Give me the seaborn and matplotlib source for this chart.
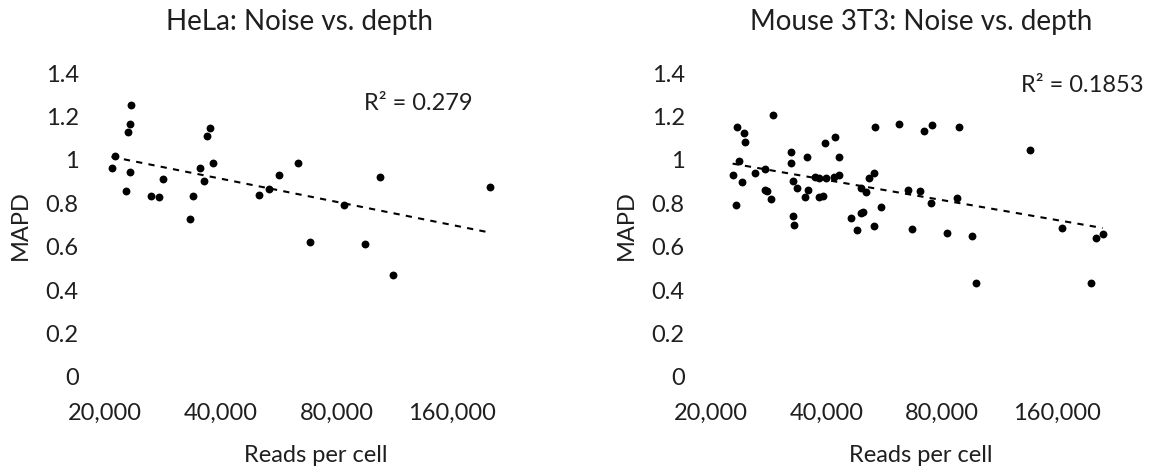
import numpy as np
import pandas as pd
import matplotlib
matplotlib.use("Agg")
import matplotlib.pyplot as plt
import seaborn as sns
from matplotlib.ticker import FixedLocator, FixedFormatter, NullLocator

# ---------------- data ----------------
hela_reads = [23400, 23260, 22940, 21220, 20810, 23260, 22630, 26280, 27610, 28330,
              33290, 33820, 35330, 36270, 36930, 37510, 38180, 50250, 53250, 56530,
              63560, 68300, 103700, 83450, 94870, 112300, 200700]
hela_mapd = [1.254, 1.166, 1.131, 1.020, 0.964, 0.945, 0.858, 0.832, 0.828, 0.914,
             0.728, 0.834, 0.964, 0.904, 1.111, 1.146, 0.986, 0.838, 0.868, 0.929,
             0.986, 0.622, 0.923, 0.792, 0.611, 0.469, 0.874]

mouse_reads = [22770, 23180, 23380, 23640, 24390, 24600, 24170, 26100, 27640, 28000,
               27600, 28620, 29070, 32450, 32390, 32680, 32680, 32970, 33550, 35130,
               35600, 35820, 37270, 38270, 38270, 39120, 39650, 39920, 41890, 42250,
               43100, 43100, 46360, 48000, 49410, 49830, 49410, 50840, 51860, 53350,
               53590, 53240, 55760, 61940, 65390, 67080, 70260, 72100, 75520, 75050,
               82780, 87940, 88980, 96240, 98400, 136400, 165300, 196000, 202800, 210700]
mouse_mapd = [0.929, 0.792, 1.154, 0.997, 1.123, 1.085, 0.898, 0.938, 0.958, 0.858,
              0.862, 0.818, 1.208, 1.038, 0.985, 0.905, 0.743, 0.702, 0.869, 0.831,
              1.015, 0.862, 0.923, 0.915, 0.831, 0.834, 1.077, 0.915, 0.923, 1.108,
              1.015, 0.931, 0.731, 0.677, 0.757, 0.762, 0.869, 0.854, 0.915, 0.938,
              1.154, 0.697, 0.782, 1.168, 0.862, 0.682, 0.858, 1.132, 1.162, 0.803,
              0.662, 0.823, 1.151, 0.651, 0.434, 1.045, 0.688, 0.434, 0.641, 0.660]

titles = ["HeLa: Noise vs. depth", "Mouse 3T3: Noise vs. depth"]
r2_labels = ["R\u00b2 = 0.279", "R\u00b2 = 0.1853"]
x_ticks = [20000, 40000, 80000, 160000]
x_tick_labels = ["20,000", "40,000", "80,000", "160,000"]
y_ticks = [0, 0.2, 0.4, 0.6, 0.8, 1.0, 1.2, 1.4]
y_tick_labels = ["0", "0.2", "0.4", "0.6", "0.8", "1", "1.2", "1.4"]

# ---------------- style ----------------
sns.set_theme(style="white")
plt.rcParams["font.family"] = ["Lato", "DejaVu Sans"]

W, H = 1153, 473
fig = plt.figure(figsize=(W / 100, H / 100), dpi=100)

def fx(px):
    return px / W

def fy(py):
    return 1 - py / H

y_top, y_bot = 73.3, 376.7
axes_specs = [(105, 527), (711, 1131)]
title_x = [300, 921]
r2_pos = [(473, 103), (1144, 85)]

frames = [pd.DataFrame({"reads": hela_reads, "mapd": hela_mapd}),
          pd.DataFrame({"reads": mouse_reads, "mapd": mouse_mapd})]

txt_color = "#1f1f1f"
tick_fs = 17
for i, (x0, x1) in enumerate(axes_specs):
    ax = fig.add_axes([fx(x0), fy(y_bot), fx(x1 - x0), (y_bot - y_top) / H])
    ax.set_xscale("log", base=2)
    sns.regplot(data=frames[i], x="reads", y="mapd", ax=ax, logx=True, ci=None,
                truncate=True,
                scatter_kws=dict(s=32, color="black", linewidths=0, alpha=1),
                line_kws=dict(color="black", lw=1.5, ls=(0, (3, 3))))
    ax.set_xlim(20000, 250000)
    ax.set_ylim(0, 1.4)
    ax.xaxis.set_major_locator(FixedLocator(x_ticks))
    ax.xaxis.set_major_formatter(FixedFormatter(x_tick_labels))
    ax.xaxis.set_minor_locator(NullLocator())
    ax.set_yticks(y_ticks)
    ax.set_yticklabels(y_tick_labels)
    ax.tick_params(axis="both", length=0, labelsize=tick_fs, colors=txt_color)
    ax.tick_params(axis="y", pad=19)
    ax.tick_params(axis="x", pad=19)
    for s in ax.spines.values():
        s.set_visible(False)
    ax.grid(False)
    ax.set_xlabel("Reads per cell", fontsize=tick_fs, color=txt_color)
    ax.set_ylabel("MAPD", fontsize=tick_fs, color=txt_color)
    ax.xaxis.set_label_coords(0.5, (y_bot - 455) / (y_bot - y_top))
    ax.xaxis.label.set_va("center")
    ax.yaxis.set_label_coords(-85 / (x1 - x0), 0.5)
    ax.yaxis.label.set_va("center")
    fig.text(fx(title_x[i]), fy(22), titles[i], ha="center", va="center",
             fontsize=20, color=txt_color)
    fig.text(fx(r2_pos[i][0]), fy(r2_pos[i][1]), r2_labels[i], ha="right",
             va="center", fontsize=tick_fs, color=txt_color)

fig.savefig("out.png", dpi=100, facecolor="white")
